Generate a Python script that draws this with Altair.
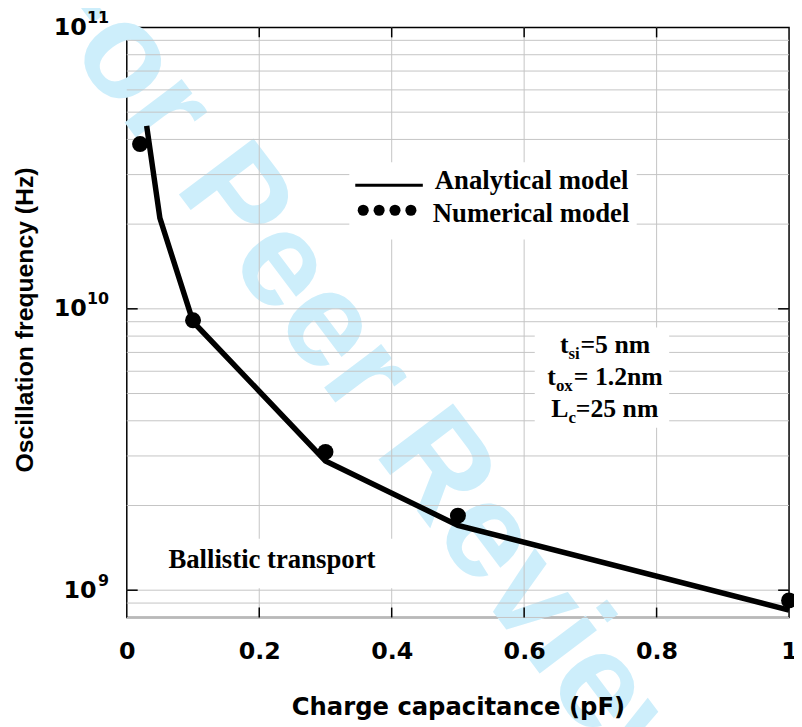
import altair as alt
import pandas as pd

# ---------------- data ----------------
ana_x = [0.03, 0.05, 0.1, 0.3, 0.5, 1.0]
ana_y = [4.47e10, 2.1e10, 9.0e9, 2.88e9, 1.70e9, 8.5e8]
num_x = [0.02, 0.1, 0.3, 0.5, 1.0]
num_y = [3.85e10, 9.1e9, 3.1e9, 1.84e9, 9.2e8]

x_ticks = [0, 0.2, 0.4, 0.6, 0.8, 1.0]
x_inner = [0.2, 0.4, 0.6, 0.8]
y_major = [1e9, 1e10, 1e11]
y_exp = ["9", "10", "11"]
y_inner = [1e9, 1e10]
y_grid = [8e8, 9e8, 1e9, 2e9, 3e9, 4e9, 5e9, 6e9, 7e9, 8e9, 9e9,
          1e10, 2e10, 3e10, 4e10, 5e10, 6e10, 7e10, 8e10, 9e10]

# annotation text and positions (data units)
lab_txt = ["Analytical model", "Numerical model", "Ballistic transport"]
lab_x = [0.465, 0.462, 0.0628]
lab_y = [2.66e10, 2.04e10, 1.195e9]

main_txt = ["t", "=5 nm", "t", "= 1.2nm", "L", "=25 nm"]
main_x = [0.654, 0.685, 0.635, 0.675, 0.641, 0.678]
main_y = [6.96e9, 6.96e9, 5.36e9, 5.36e9, 4.13e9, 4.13e9]
sub_txt = ["si", "ox", "c"]
sub_x = [0.667, 0.648, 0.667]
sub_y = [6.63e9, 5.10e9, 3.94e9]

box_x = [0.336, 0.616, 0.033]
box_x2 = [0.770, 0.819, 0.407]
box_y = [3.32e10, 8.58e9, 1.524e9]
box_y2 = [1.765e10, 3.78e9, 1.016e9]

leg_line_x = [0.345]
leg_line_x2 = [0.447]
leg_line_y = [2.75e10]
leg_dot_x = [0.357, 0.381, 0.405, 0.429]
leg_dot_y = [2.24e10, 2.24e10, 2.24e10, 2.24e10]

wm_txt = ["For Peer Review"]
wm_x = [0.366]
wm_y = [5.6e9]

W, H = 669, 596

xscale = alt.Scale(domain=[0, 1], nice=False, zero=False)
yscale = alt.Scale(type="log", domain=[8e8, 1e11], nice=False)

xaxis = alt.Axis(values=x_ticks, format=".1~f", title="Charge capacitance (pF)",
                 grid=False, ticks=False, tickSize=0, domain=False, zindex=1,
                 labelFont="DejaVu Sans", labelFontWeight="bold", labelFontSize=24,
                 labelColor="black", labelPadding=22, labelFlush=False, labelOverlap=False,
                 titleFont="DejaVu Sans", titleFontSize=24.5, titleFontWeight="bold",
                 titleColor="black", titleX=W / 2, titleY=98,
                 titleBaseline="alphabetic", titleAlign="center")
yaxis = alt.Axis(values=y_major, labelExpr="'10'",
                 title="Oscillation frequency (Hz)",
                 grid=False, ticks=False, tickSize=0, domain=False, zindex=1,
                 labelFont="DejaVu Sans", labelFontWeight="bold", labelFontSize=24,
                 labelColor="black",
                 labelPadding={"condition": {"test": "datum.value < 5e9", "value": 31}, "value": 41},
                 labelFlush=False, labelOverlap=False,
                 titleFont="Liberation Sans", titleFontSize=25, titleFontWeight="bold",
                 titleColor="black", titleAngle=270, titleX=-95, titleY=295,
                 titleBaseline="alphabetic", titleAlign="center")


def X(f="x"):
    return alt.X(f"{f}:Q", scale=xscale, axis=xaxis)


def Y(f="y"):
    return alt.Y(f"{f}:Q", scale=yscale, axis=yaxis)


wm = alt.Chart(pd.DataFrame({"x": wm_x, "y": wm_y, "t": wm_txt})).mark_text(
    angle=53, fontSize=137, font="Liberation Sans", fontWeight="bold",
    color="#cdeefb", align="center", baseline="middle"
).encode(x=X(), y=Y(), text="t:N")

hgrid = alt.Chart(pd.DataFrame({"y": y_grid})).mark_rule(
    color="#c4c4c4", strokeWidth=1).encode(y=Y())
vgrid = alt.Chart(pd.DataFrame({"x": x_inner})).mark_rule(
    color="#c4c4c4", strokeWidth=1).encode(x=X())

boxes = alt.Chart(pd.DataFrame({"x": box_x, "x2": box_x2, "y": box_y, "y2": box_y2})).mark_rect(
    color="white").encode(x=X(), x2="x2:Q", y=Y(), y2="y2:Q")

line = alt.Chart(pd.DataFrame({"x": ana_x, "y": ana_y})).mark_line(
    color="black", strokeWidth=5.5).encode(x=X(), y=Y())
pts = alt.Chart(pd.DataFrame({"x": num_x, "y": num_y})).mark_circle(
    color="black", opacity=1, size=260).encode(x=X(), y=Y())

leg_line = alt.Chart(pd.DataFrame({"x": leg_line_x, "x2": leg_line_x2, "y": leg_line_y})).mark_rule(
    color="black", strokeWidth=3).encode(x=X(), x2="x2:Q", y=Y())
leg_dots = alt.Chart(pd.DataFrame({"x": leg_dot_x, "y": leg_dot_y})).mark_circle(
    color="black", opacity=1, size=125).encode(x=X(), y=Y())

labels = alt.Chart(pd.DataFrame({"x": lab_x, "y": lab_y, "t": lab_txt})).mark_text(
    font="Liberation Serif", fontWeight="bold", fontSize=27, color="black",
    align="left", baseline="alphabetic").encode(x=X(), y=Y(), text="t:N")
mains = alt.Chart(pd.DataFrame({"x": main_x, "y": main_y, "t": main_txt})).mark_text(
    font="Liberation Serif", fontWeight="bold", fontSize=26, color="black",
    align="left", baseline="alphabetic").encode(x=X(), y=Y(), text="t:N")
subs = alt.Chart(pd.DataFrame({"x": sub_x, "y": sub_y, "t": sub_txt})).mark_text(
    font="Liberation Serif", fontWeight="bold", fontSize=17, color="black",
    align="left", baseline="alphabetic").encode(x=X(), y=Y(), text="t:N")

# exponents of the y tick labels (10^9, 10^10, 10^11)
exps = alt.Chart(pd.DataFrame({"y": y_major, "t": y_exp})).mark_text(
    font="DejaVu Sans", fontWeight="bold", fontSize=16, color="black",
    align="right", baseline="middle", dy=-9.5).encode(
    y=Y(), x=alt.value(-18), text="t:N")

tick_style = dict(color="black", strokeWidth=1.5)
tb = alt.Chart(pd.DataFrame({"x": x_inner})).mark_rule(**tick_style).encode(
    x=X(), y=alt.value(H), y2=alt.value(H - 10))
tt = alt.Chart(pd.DataFrame({"x": x_inner})).mark_rule(**tick_style).encode(
    x=X(), y=alt.value(0), y2=alt.value(10))
tl = alt.Chart(pd.DataFrame({"y": y_inner})).mark_rule(**tick_style).encode(
    y=Y(), x=alt.value(0), x2=alt.value(11))
tr = alt.Chart(pd.DataFrame({"y": y_inner})).mark_rule(**tick_style).encode(
    y=Y(), x=alt.value(W - 11), x2=alt.value(W))

chart = alt.layer(
    wm, hgrid, vgrid, boxes, line, pts, leg_line, leg_dots, labels, mains, subs,
    exps, tb, tt, tl, tr
).properties(
    width=W, height=H,
    autosize=alt.AutoSizeParams(type="none"),
    padding={"left": 120, "top": 16, "right": 5, "bottom": 108},
    background="white",
).configure_view(stroke="black", strokeWidth=1.5)

chart.save("out.html", embed_options={"renderer": "svg", "actions": False})
